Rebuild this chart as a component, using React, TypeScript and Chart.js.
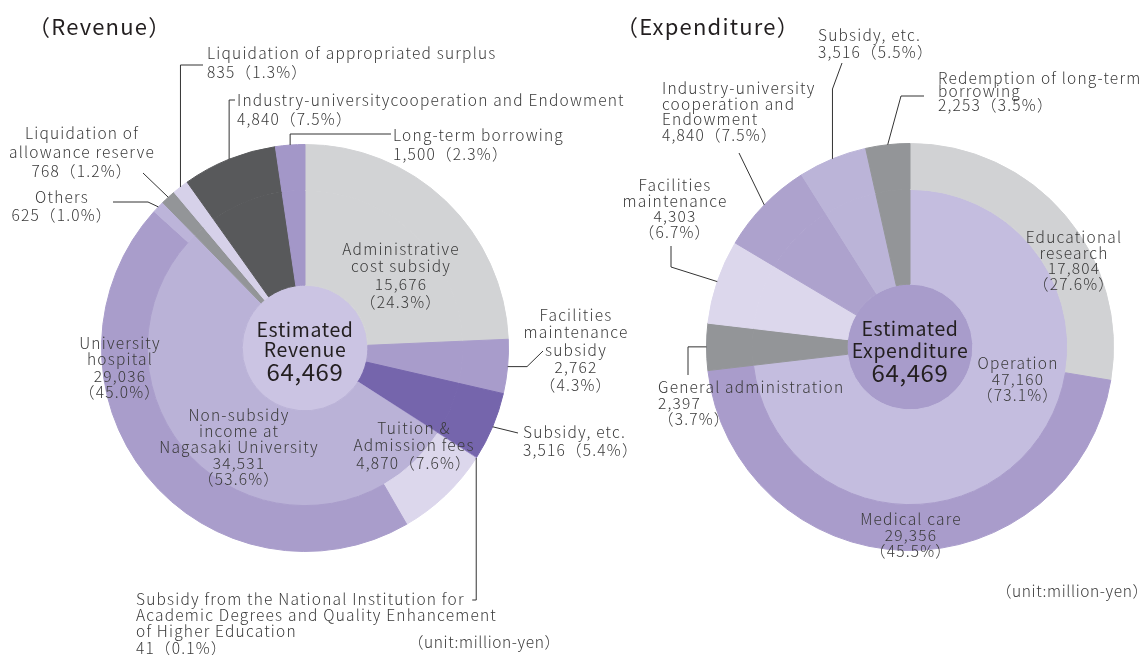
import React, { useEffect, useRef } from "react";
import { Chart, registerables } from "chart.js";

Chart.register(...registerables);

const W = 1143;
const H = 655;
const FONT = '"Noto Sans CJK JP", "Noto Sans", sans-serif';
const TEXT = "#3a3a3a";
const DARK = "#231f20";

// ---------- Revenue ----------
const revNames = [
  "Administrative\ncost subsidy",
  "Facilities\nmaintenance\nsubsidy",
  "Subsidy, etc.",
  "Subsidy from the National Institution for\nAcademic Degrees and Quality Enhancement\nof Higher Education",
  "Tuition &\nAdmission fees",
  "University\nhospital",
  "Others",
  "Liquidation of\nallowance reserve",
  "Liquidation of appropriated surplus",
  "Industry-universitycooperation and Endowment",
  "Long-term borrowing",
];
const revValues = [15676, 2762, 3516, 41, 4870, 29036, 625, 768, 835, 4840, 1500];
const revPercents = [24.3, 4.3, 5.4, 0.1, 7.6, 45.0, 1.0, 1.2, 1.3, 7.5, 2.3];
const revColors = [
  "#d2d3d5", "#a89ccb", "#7565ac", "#9a8dc6", "#dcd7ec", "#a99dcb",
  "#bcb4d9", "#939598", "#d6d1e9", "#58595b", "#a397c8",
];
const revInnerName = "Non-subsidy\nincome at\nNagasaki University";
const revInnerValue = 34531;
const revInnerPercent = 53.6;
const revInnerMembers = [4, 5, 6];
const revInnerColor = "#bab2d7";
const revCenterTitle = ["Estimated", "Revenue"];
const revTotal = 64469;
const revCenterColor = "#cbc4e3";

// ---------- Expenditure ----------
const expNames = [
  "Educational\nresearch",
  "Medical care",
  "General administration",
  "Facilities\nmaintenance",
  "Industry-university\ncooperation and\nEndowment",
  "Subsidy, etc.",
  "Redemption of long-term\nborrowing",
];
const expValues = [17804, 29356, 2397, 4303, 4840, 3516, 2253];
const expPercents = [27.6, 45.5, 3.7, 6.7, 7.5, 5.5, 3.5];
const expColors = ["#d1d2d4", "#a99ccb", "#939598", "#dcd7ec", "#ada2cd", "#bbb4d8", "#939598"];
const expInnerName = "Operation";
const expInnerValue = 47160;
const expInnerPercent = 73.1;
const expInnerMembers = [0, 1];
const expInnerColor = "#c4bddf";
const expCenterTitle = ["Estimated", "Expenditure"];
const expTotal = 64469;
const expCenterColor = "#a89ccb";

const unitText = "（unit:million-yen）";

// ---------- layout (positions only) ----------
type Lay = { x: number; y: number; lh: number; align: CanvasTextAlign; mode: "stack" | "inline" };
type Pt = [number, number];

const revLayout: Lay[] = [
  { x: 401, y: 249, lh: 17.6, align: "center", mode: "stack" },
  { x: 576, y: 315, lh: 17.5, align: "center", mode: "stack" },
  { x: 523, y: 432, lh: 18, align: "left", mode: "inline" },
  { x: 136, y: 599, lh: 16.3, align: "left", mode: "inline" },
  { x: 414, y: 428, lh: 17.5, align: "center", mode: "inline" },
  { x: 120, y: 343, lh: 16.5, align: "center", mode: "stack" },
  { x: 62, y: 197, lh: 18, align: "center", mode: "inline" },
  { x: 82, y: 133, lh: 19, align: "center", mode: "inline" },
  { x: 207, y: 53, lh: 19, align: "left", mode: "inline" },
  { x: 237, y: 100, lh: 19, align: "left", mode: "inline" },
  { x: 393, y: 135, lh: 19, align: "left", mode: "inline" },
];
const revInnerLayout: Lay = { x: 239, y: 415, lh: 16, align: "center", mode: "stack" };
const revLeaders: Record<number, (a: Pt) => Pt[]> = {
  1: (a) => [[527, a[1]], [543, 351]],
  2: () => [[518, 433]],
  3: (a) => [[a[0], 600], [a[0] - 4, 600]],
  6: () => [[148, 202], [113, 202]],
  7: () => [[143, 173]],
  8: (a) => [[a[0], 65], [203, 65]],
  9: (a) => [[a[0], 100], [235, 100]],
  10: (a) => [[a[0], 134], [391, 134]],
};

const expLayout: Lay[] = [
  { x: 1074, y: 237, lh: 15.7, align: "center", mode: "stack" },
  { x: 911, y: 519, lh: 16, align: "center", mode: "stack" },
  { x: 658, y: 387, lh: 16, align: "left", mode: "stack" },
  { x: 675, y: 185, lh: 15.7, align: "center", mode: "stack" },
  { x: 662, y: 88, lh: 15.7, align: "left", mode: "inline" },
  { x: 818, y: 35, lh: 17, align: "left", mode: "inline" },
  { x: 938, y: 78, lh: 13.5, align: "left", mode: "inline" },
];
const expInnerLayout: Lay = { x: 1018, y: 363, lh: 16, align: "center", mode: "stack" };
const expLeaders: Record<number, (a: Pt) => Pt[]> = {
  2: (a) => [[688, a[1]], [688, 375]],
  3: () => [[671, 267], [671, 246]],
  4: () => [[739, 153]],
  5: (a) => [[a[0], 89], [842, 63]],
  6: () => [[901, 96], [924, 96]],
};

const fmt = (v: number) => v.toLocaleString("en-US");
const pct = (p: number) => `（${p.toFixed(1)}%）`;

function labelLines(name: string, value: number, p: number, mode: "stack" | "inline") {
  const lines = name.split("\n");
  if (mode === "inline") lines.push(fmt(value) + pct(p));
  else lines.push(fmt(value), pct(p));
  return lines;
}

function setFont(ctx: CanvasRenderingContext2D, size: number, spacing: number, weight = 400) {
  ctx.font = `${weight} ${size}px ${FONT}`;
  (ctx as any).letterSpacing = `${spacing}px`;
}

function drawLines(ctx: CanvasRenderingContext2D, lines: string[], lay: Lay, color: string) {
  ctx.save();
  setFont(ctx, 15.5, 1.2, 300);
  ctx.fillStyle = color;
  ctx.textAlign = lay.align;
  ctx.textBaseline = "middle";
  lines.forEach((l, i) => ctx.fillText(l, lay.x, lay.y + i * lay.lh));
  ctx.restore();
}

function buildInner(values: number[], colors: string[], members: number[], innerColor: string) {
  const data: number[] = [];
  const cols: string[] = [];
  let done = false;
  values.forEach((v, i) => {
    if (members.includes(i)) {
      if (!done) {
        data.push(members.reduce((s, m) => s + values[m], 0));
        cols.push(innerColor);
        done = true;
      }
    } else {
      data.push(v);
      cols.push(colors[i]);
    }
  });
  return { data, cols };
}

type Spec = {
  names: string[];
  values: number[];
  percents: number[];
  colors: string[];
  innerName: string;
  innerValue: number;
  innerPercent: number;
  innerMembers: number[];
  innerColor: string;
  centerTitle: string[];
  total: number;
  centerColor: string;
  layout: Lay[];
  innerLayout: Lay;
  leaders: Record<number, (a: Pt) => Pt[]>;
  padding: { left: number; right: number; top: number; bottom: number };
  title: string;
  titleX: number;
  unitX: number;
  unitY: number;
  centerYs: number[];
};

function makeChart(canvas: HTMLCanvasElement, s: Spec) {
  const inner = buildInner(s.values, s.colors, s.innerMembers, s.innerColor);
  const labelPlugin = {
    id: "labels" + s.title,
    afterDraw(chart: any) {
      const ctx: CanvasRenderingContext2D = chart.ctx;
      const meta = chart.getDatasetMeta(0);
      ctx.save();
      ctx.strokeStyle = "#333";
      ctx.lineWidth = 1;
      Object.keys(s.leaders).forEach((k) => {
        const i = Number(k);
        const arc = meta.data[i];
        const ang = (arc.startAngle + arc.endAngle) / 2;
        const a: Pt = [arc.x + Math.cos(ang) * arc.outerRadius, arc.y + Math.sin(ang) * arc.outerRadius];
        const pts = [a, ...s.leaders[i](a)];
        ctx.beginPath();
        pts.forEach((p, j) => (j ? ctx.lineTo(p[0], p[1]) : ctx.moveTo(p[0], p[1])));
        ctx.stroke();
      });
      ctx.restore();
      s.names.forEach((n, i) => {
        drawLines(ctx, labelLines(n, s.values[i], s.percents[i], s.layout[i].mode), s.layout[i], TEXT);
      });
      drawLines(ctx, labelLines(s.innerName, s.innerValue, s.innerPercent, s.innerLayout.mode), s.innerLayout, TEXT);
      const c = meta.data[0];
      ctx.save();
      ctx.fillStyle = DARK;
      ctx.textAlign = "center";
      ctx.textBaseline = "middle";
      setFont(ctx, 19.5, 0.6);
      s.centerTitle.forEach((t, i) => ctx.fillText(t, c.x, s.centerYs[i]));
      setFont(ctx, 24, 0.6);
      ctx.fillText(fmt(s.total), c.x, s.centerYs[2]);
      ctx.textAlign = "left";
      setFont(ctx, 22, 1.2);
      ctx.fillText(s.title, s.titleX, 27);
      ctx.fillStyle = TEXT;
      setFont(ctx, 15.5, 0.6, 300);
      ctx.fillText(unitText, s.unitX, s.unitY);
      ctx.restore();
    },
  };
  const ds = (data: number[], colors: string[], weight: number) =>
    ({ data, backgroundColor: colors, borderColor: colors, borderWidth: 1, weight, hoverOffset: 0 } as any);
  return new Chart(canvas, {
    type: "doughnut",
    data: {
      labels: s.names,
      datasets: [
        ds(s.values, s.colors, 46),
        ds(inner.data, inner.cols, 95),
        ds([s.total], [s.centerColor], 63),
      ],
    },
    options: {
      responsive: false,
      animation: false,
      devicePixelRatio: 1,
      cutout: 0,
      events: [],
      layout: { padding: s.padding },
      plugins: { legend: { display: false }, tooltip: { enabled: false } },
    } as any,
    plugins: [labelPlugin],
  });
}

export default function App() {
  const leftRef = useRef<HTMLCanvasElement>(null);
  const rightRef = useRef<HTMLCanvasElement>(null);
  useEffect(() => {
    const a = makeChart(leftRef.current!, {
      names: revNames, values: revValues, percents: revPercents, colors: revColors,
      innerName: revInnerName, innerValue: revInnerValue, innerPercent: revInnerPercent,
      innerMembers: revInnerMembers, innerColor: revInnerColor, centerTitle: revCenterTitle,
      total: revTotal, centerColor: revCenterColor, layout: revLayout, innerLayout: revInnerLayout,
      leaders: revLeaders, padding: { left: 101, right: 634, top: 144, bottom: 103 },
      title: "（Revenue）", titleX: 28, unitX: 408, unitY: 642, centerYs: [330, 350, 372],
    });
    const b = makeChart(rightRef.current!, {
      names: expNames, values: expValues, percents: expPercents, colors: expColors,
      innerName: expInnerName, innerValue: expInnerValue, innerPercent: expInnerPercent,
      innerMembers: expInnerMembers, innerColor: expInnerColor, centerTitle: expCenterTitle,
      total: expTotal, centerColor: expCenterColor, layout: expLayout, innerLayout: expInnerLayout,
      leaders: expLeaders, padding: { left: 706, right: 29, top: 143, bottom: 104 },
      title: "（Expenditure）", titleX: 616, unitX: 996, unitY: 591, centerYs: [329, 351, 373],
    });
    return () => {
      a.destroy();
      b.destroy();
    };
  }, []);
  const cs: React.CSSProperties = { position: "absolute", left: 0, top: 0, width: W, height: H };
  return (
    <div style={{ position: "absolute", left: 0, top: 0, width: W, height: H, background: "#fff" }}>
      <canvas ref={leftRef} width={W} height={H} style={cs} />
      <canvas ref={rightRef} width={W} height={H} style={cs} />
    </div>
  );
}
